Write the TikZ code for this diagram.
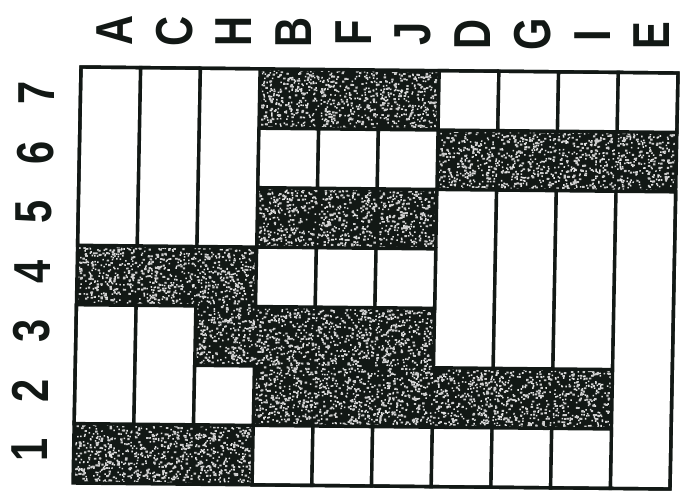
\documentclass[tikz,border=0pt]{standalone}
\usepackage{fontspec}
\setmainfont{Liberation Sans}
\definecolor{ink}{RGB}{18,24,21}
\tikzset{
  lbl/.style={inner sep=0pt, rotate=90, text=ink, font=\fontsize{52}{52}\selectfont\bfseries},
  whitecell/.style={fill=white, draw=ink, line width=3.4pt},
}
\newcommand{\sq}[1]{\scalebox{0.8}[1]{#1}}
\begin{document}
\begin{tikzpicture}[x=1pt,y=1pt]
\useasboundingbox (0,0) rectangle (684,-495);
\pgfmathsetseed{4242}
\begin{scope}[cm={59.7,-0.6,-1.143,-59.43,(81pt,-67pt)}]
  % dark base
  \fill[ink] (0,0) rectangle (10,7);
  % speckles in the dark cells
  \foreach \cu/\cv in {3/0,4/0,5/0, 6/1,7/1,8/1,9/1, 3/2,4/2,5/2, 0/3,1/3,2/3,
                       2/4,3/4,4/4,5/4, 3/5,4/5,5/5,6/5,7/5,8/5, 0/6,1/6,2/6}{
    \fill[white!90!black] \foreach \k in {1,...,180}{ ({\cu+0.98*rnd},{\cv+0.98*rnd}) rectangle ++(0.025,0.026) };
    \fill[white!80!black] \foreach \k in {1,...,90}{ ({\cu+0.97*rnd},{\cv+0.97*rnd}) rectangle ++(0.04,0.032) };
  }
  % white cells
  \path[whitecell] (0,0) rectangle (1,3);
  \path[whitecell] (1,0) rectangle (2,3);
  \path[whitecell] (2,0) rectangle (3,3);
  \foreach \u in {6,7,8,9}{ \path[whitecell] (\u,0) rectangle (\u+1,1); }
  \foreach \u in {3,4,5}{ \path[whitecell] (\u,1) rectangle (\u+1,2); }
  \foreach \u in {6,7,8}{ \path[whitecell] (\u,2) rectangle (\u+1,5); }
  \path[whitecell] (9,2) rectangle (10,7);
  \foreach \u in {3,4,5}{ \path[whitecell] (\u,3) rectangle (\u+1,4); }
  \path[whitecell] (0,4) rectangle (1,6);
  \path[whitecell] (1,4) rectangle (2,6);
  \path[whitecell] (2,5) rectangle (3,6);
  \foreach \u in {3,4,5,6,7,8}{ \path[whitecell] (\u,6) rectangle (\u+1,7); }
  % outer frame
  \draw[ink, line width=3.4pt] (0,0) rectangle (10,7);
  % column labels
  \foreach \t [count=\i from 0] in {A,C,H,B,F,J,D,G,I,E}{
    \node[lbl] (col\t) at (\i+0.55,-0.62) {\sq{\t}};
  }
  % row labels
  \foreach \r in {1,...,7}{
    \pgfmathtruncatemacro{\vv}{7-\r}
    \node[lbl] (row\r) at (-0.74,\vv+0.45) {\sq{\r}};
  }
\end{scope}
\end{tikzpicture}
\end{document}
